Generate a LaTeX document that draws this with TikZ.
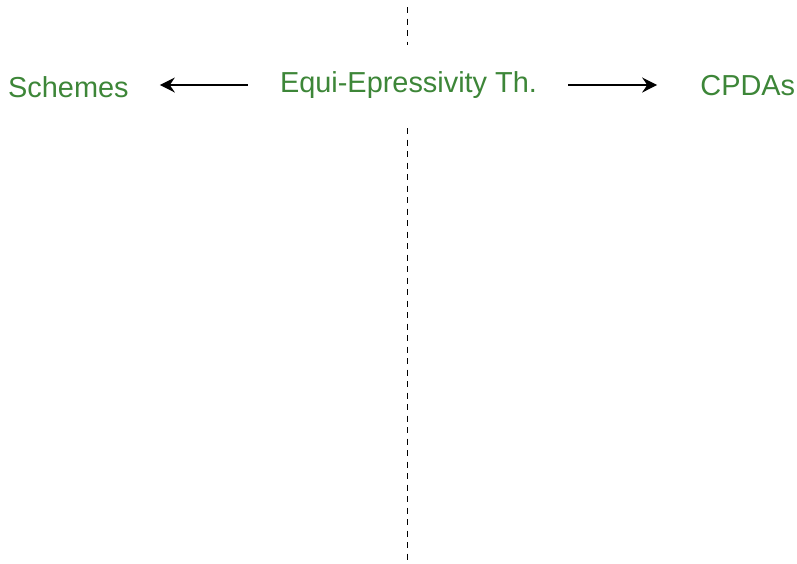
\documentclass[tikz,border=0pt]{standalone}
\usepackage{fontspec}
\setmainfont{Liberation Sans}
\usepackage{xcolor}
\usetikzlibrary{positioning,arrows.meta}
\definecolor{LeafGreen}{RGB}{61,134,56}

\begin{document}
\begin{tikzpicture}[
      x=1pt, y=-1pt,
      label/.style={inner sep=0pt, text=LeafGreen, font=\fontsize{28.9}{34}\selectfont, text height=21pt, text depth=7pt},
      arrow/.style={-{Stealth[length=15pt,width=15pt,inset=5pt]}, line width=1.5pt, black},
      divider/.style={line width=1.8pt, dash pattern=on 6pt off 5.5pt}
    ]
      \useasboundingbox (0,0) rectangle (797,563);

      \node[label] (equi) at (408.5,85) {Equi-Epressivity Th.};
      \node[label, left=151pt of equi, yshift=-5pt] (schemes) {Schemes};
      \node[label, right=163pt of equi, yshift=-3pt] (cpdas) {CPDAs};

      \draw[arrow, shorten <=32pt, shorten >=31pt] (equi.west) -- (equi.west -| schemes.east);
      \draw[arrow, shorten <=31pt, shorten >=43pt] (equi.east) -- (equi.east -| cpdas.west);

      % split vertical divider
      \coordinate (divtop) at (407.5,7);
      \coordinate (divcut1) at (407.5,45);
      \coordinate (divcut2) at (407.5,128);
      \coordinate (divbot) at (407.5,563);
      \draw[divider] (divtop) -- (divcut1);
      \draw[divider] (divcut2) -- (divbot);
    \end{tikzpicture}
\end{document}
